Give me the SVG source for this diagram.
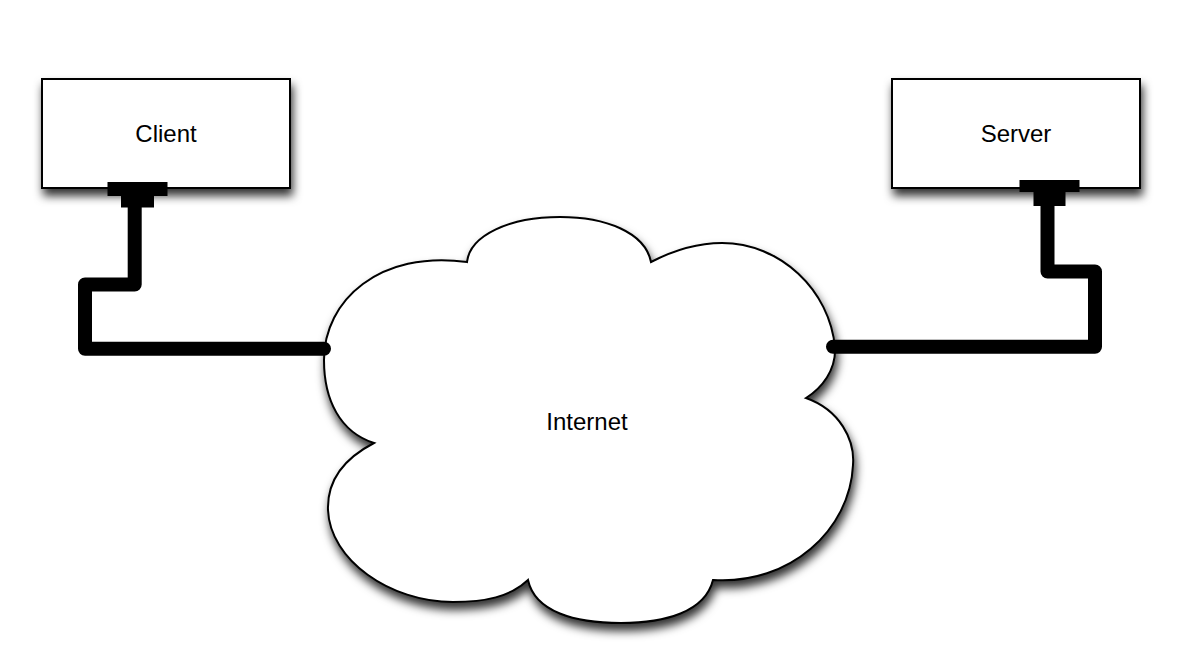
<svg xmlns="http://www.w3.org/2000/svg" width="1184" height="652" viewBox="0 0 1184 652">
  <defs>
    <filter id="shadow" x="-10%" y="-10%" width="130%" height="140%">
      <feDropShadow dx="2" dy="7" stdDeviation="5" flood-color="#000" flood-opacity="0.8"/>
    </filter>
  </defs>
  <style>
    .box { fill: #fff; stroke: #000; stroke-width: 2; filter: url(#shadow); }
    .cloud { fill: #fff; stroke: #000; stroke-width: 2; stroke-linejoin: miter; filter: url(#shadow); }
    .label { font-family: "Liberation Sans", Arial, Helvetica, sans-serif; font-size: 24px; fill: #000; text-anchor: middle; }
    .cable { fill: none; stroke: #000; stroke-width: 14; stroke-linejoin: round; stroke-linecap: round; }
    .plug { fill: #000; }
  </style>
  <rect width="1184" height="652" fill="#fff"/>

  <!-- Internet cloud -->
  <g id="internet">
    <path class="cloud" d="M467,262 C470,235 510,217 560,217 C605,217 645,232 651,262 C680,247 705,243 722,243 C780,243 830,290 835,348 C836,370 822,388 806,398 C840,410 855,440 853,465 C850,530 790,585 713,580 C705,612 665,623 621,623 C575,623 535,612 528,580 C510,597 485,602 453,602 C390,602 330,560 328,510 C327,480 345,458 374,443 C340,432 324,400 324,360 C324,300 380,250 467,262 Z"/>
    <text class="label" x="587" y="430">Internet</text>
  </g>

  <!-- Client -->
  <g id="client">
    <rect class="box" x="42" y="79" width="248" height="109"/>
    <text class="label" x="166" y="141.5">Client</text>
  </g>

  <!-- Server -->
  <g id="server">
    <rect class="box" x="892" y="79" width="248" height="109"/>
    <text class="label" x="1016" y="141.5">Server</text>
  </g>

  <!-- Cables with their plugs -->
  <g id="connectors">
    <path class="cable" d="M134.7,205 V284.5 H85 V348.7 H324"/>
    <rect class="plug" x="107.5" y="182" width="60" height="14"/>
    <rect class="plug" x="121" y="195" width="33" height="12.5"/>

    <path class="cable" d="M1047.5,205 V271.5 H1095 V346.7 H833"/>
    <rect class="plug" x="1019.5" y="180" width="60" height="12"/>
    <rect class="plug" x="1033.5" y="191" width="32" height="15"/>
  </g>
</svg>
